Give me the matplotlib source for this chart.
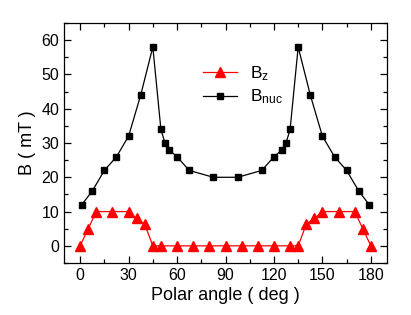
import numpy as np
import matplotlib
matplotlib.use('Agg')
import matplotlib.pyplot as plt
from matplotlib.ticker import MultipleLocator

plt.rcParams['font.family'] = ['Liberation Sans', 'DejaVu Sans']
plt.rcParams['mathtext.fontset'] = 'custom'
plt.rcParams['mathtext.rm'] = 'Liberation Sans'
plt.rcParams['mathtext.it'] = 'Liberation Sans'

# B_z (red triangles)
angle_z = [0, 5, 10, 20, 30, 35, 40, 45, 50, 60, 70, 80, 90, 100, 110, 120, 130,
           135, 140, 145, 150, 160, 170, 175, 180]
b_z = [0, 5, 10, 10, 10, 8, 6.3, 0, 0, 0, 0, 0, 0, 0, 0, 0, 0,
       0, 6.3, 8, 10, 10, 10, 5, 0]

# B_nuc (black squares)
angle_nuc = [1, 7.5, 15, 22.5, 30, 37.5, 45, 50, 52.5, 55, 60, 67.5, 82.5,
             97.5, 112.5, 120, 125, 127.5, 130, 135, 142.5, 150, 157.5, 165, 172.5, 179]
b_nuc = [12, 16, 22, 26, 32, 44, 58, 34, 30, 28, 26, 22, 20,
         20, 22, 26, 28, 30, 34, 58, 44, 32, 26, 22, 16, 12]

fig = plt.figure(figsize=(4.11, 3.15), dpi=100)
ax = fig.add_axes([64/411, 1-263/315, (387-64)/411, (263-23)/315])

ax.plot(angle_z, b_z, '-^', color='red', lw=0.9, ms=6.5, label=r'B$_z$')
ax.plot(angle_nuc, b_nuc, '-s', color='black', lw=0.9, ms=5, label=r'B$_{nuc}$')

ax.set_xlim(-10, 190)
ax.set_ylim(-5, 65)
ax.xaxis.set_major_locator(MultipleLocator(30))
ax.xaxis.set_minor_locator(MultipleLocator(15))
ax.yaxis.set_major_locator(MultipleLocator(10))
ax.yaxis.set_minor_locator(MultipleLocator(5))
ax.tick_params(which='both', direction='in', top=True, right=True, labelsize=11.5)
ax.tick_params(which='major', length=5, width=0.9)
ax.tick_params(which='minor', length=3, width=0.9)
for s in ax.spines.values():
    s.set_linewidth(0.9)

ax.set_xlabel('Polar angle ( deg )', fontsize=13, labelpad=3)
ax.set_ylabel('B ( mT )', fontsize=13, labelpad=4)

ax.legend(loc='upper left', bbox_to_anchor=(0.381, 0.895), frameon=False,
          fontsize=12.5, handlelength=2.0, handletextpad=0.7, labelspacing=0.3)

fig.savefig('out.png', dpi=100)
